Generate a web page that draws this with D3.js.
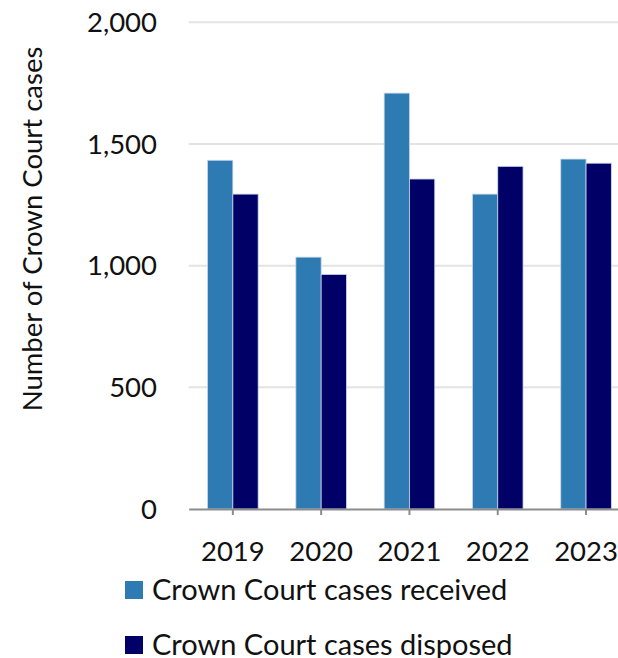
<!DOCTYPE html>
<html>
<head>
<meta charset="utf-8">
<script src="https://cdn.jsdelivr.net/npm/d3@7"></script>
<style>
  body { margin: 0; background: #fff; }
  svg { display: block; font-family: Lato, "Open Sans", sans-serif; }
</style>
</head>
<body>
<svg></svg>
<script>
let years = ["2019", "2020", "2021", "2022", "2023"];
let received = [1433, 1035, 1709, 1294, 1438];
let disposed = [1294, 964, 1356, 1408, 1421];
let yTicks = [0, 500, 1000, 1500, 2000];
let seriesNames = ["Crown Court cases received", "Crown Court cases disposed"];
let colors = ["#2E7BB4", "#000066"];

let width = 618;
let height = 658;
let plotLeft = 188.7;
let bandStep = 88.3;
let plotTop = 22.3;
let plotBottom = 509;

let svg = d3.select("svg").attr("width", width).attr("height", height);

let xScale = d3.scaleBand()
  .domain(years)
  .range([plotLeft, plotLeft + bandStep * years.length])
  .paddingInner(0.427)
  .paddingOuter(0.2135);

let yScale = d3.scaleLinear().domain([0, 2000]).range([plotBottom, plotTop]);

let xInner = d3.scaleBand()
  .domain([0, 1])
  .range([0, xScale.bandwidth()]);

// gridlines
svg.append("g")
  .selectAll("line")
  .data(yTicks.filter((d) => d > 0))
  .enter()
  .append("line")
  .attr("x1", plotLeft)
  .attr("x2", width)
  .attr("y1", (d) => yScale(d))
  .attr("y2", (d) => yScale(d))
  .attr("stroke", "#e3e3e3")
  .attr("stroke-width", 2);

// y tick labels
svg.append("g")
  .selectAll("text")
  .data(yTicks)
  .enter()
  .append("text")
  .attr("x", 157)
  .attr("y", (d) => yScale(d))
  .attr("dy", "0.35em")
  .attr("text-anchor", "end")
  .attr("font-size", 27.5)
  .attr("fill", "#111")
  .text((d) => d3.format(",")(d));

// bars
let groups = svg.append("g")
  .selectAll("g")
  .data(years)
  .enter()
  .append("g")
  .attr("transform", (d) => `translate(${xScale(d)},0)`);

groups.selectAll("rect")
  .data((d, i) => [received[i], disposed[i]])
  .enter()
  .append("rect")
  .attr("x", (d, j) => xInner(j))
  .attr("y", (d) => yScale(d))
  .attr("width", xInner.bandwidth())
  .attr("height", (d) => yScale(0) - yScale(d))
  .attr("fill", (d, j) => colors[j])
  .attr("stroke", "#c9d6ea")
  .attr("stroke-width", 0.8);

// x axis
let xAxis = d3.axisBottom(xScale).tickSize(6).tickSizeOuter(0).tickPadding(26);
let gx = svg.append("g")
  .attr("transform", `translate(0, ${plotBottom})`)
  .call(xAxis);
gx.select(".domain").attr("stroke", "#8c8c8c").attr("stroke-width", 2);
gx.selectAll(".tick line").attr("stroke", "#8c8c8c").attr("stroke-width", 2);
gx.selectAll(".tick text")
  .attr("font-size", 27.5)
  .attr("font-family", "Lato, sans-serif")
  .attr("fill", "#111");

// y axis title
svg.append("text")
  .attr("transform", `translate(42, ${(40 + 418) / 2}) rotate(-90)`)
  .attr("text-anchor", "middle")
  .attr("font-size", 27.5)
  .attr("fill", "#111")
  .text("Number of Crown Court cases");

// legend
let legend = svg.append("g")
  .selectAll("g")
  .data(seriesNames)
  .enter()
  .append("g")
  .attr("transform", (d, i) => `translate(125, ${581 + i * 55})`);

legend.append("rect")
  .attr("width", 18)
  .attr("height", 18)
  .attr("fill", (d, i) => colors[i]);

legend.append("text")
  .attr("x", 27)
  .attr("y", 9)
  .attr("dy", "0.35em")
  .attr("font-size", 29)
  .attr("fill", "#111")
  .text((d) => d);
</script>
</body>
</html>
